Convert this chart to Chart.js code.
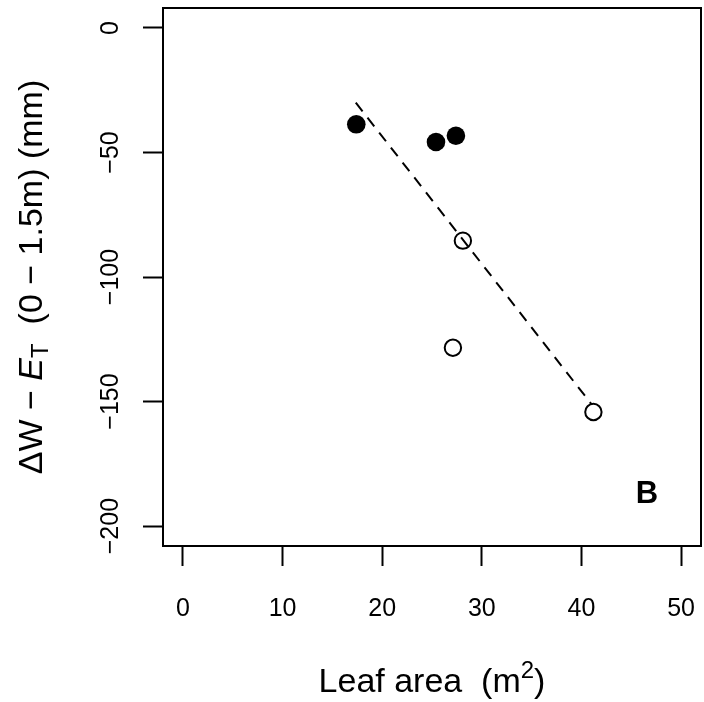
<!DOCTYPE html>
<html>
<head>
<meta charset="utf-8">
<script src="https://cdn.jsdelivr.net/npm/chart.js@4.4.0/dist/chart.umd.min.js"></script>
<style>
  html, body { margin: 0; padding: 0; background: #fff; }
  #wrap { width: 704px; height: 702px; }
</style>
</head>
<body>
<div id="wrap"><canvas id="myChart" width="704" height="702"></canvas></div>
<script>
// data
const filledX = [17.4, 25.4, 27.4];
const filledY = [-38.7, -45.8, -43.3];
const openX = [28.1, 27.1, 41.2];
const openY = [-85.4, -128.4, -154.2];
const fitX = [17.35, 41.0];
const fitY = [-30, -151];

const xTicks = [0, 10, 20, 30, 40, 50];
const yTicks = [0, -50, -100, -150, -200];
const panelLabel = 'B';

const FONT = '"Liberation Sans", Arial, Helvetica, sans-serif';

function pairs(xs, ys) {
  return xs.map(function(x, i) { return { x: x, y: ys[i] }; });
}

// draws a run of text pieces (for sub/superscripts), centred on 0
function drawPieces(c, pieces) {
  let total = 0;
  pieces.forEach(function(p) {
    c.font = p.font;
    p.w = c.measureText(p.text).width;
    total += p.w;
  });
  let x = -total / 2;
  pieces.forEach(function(p) {
    c.font = p.font;
    c.fillText(p.text, x, p.dy || 0);
    x += p.w;
  });
}

const rPlot = {
  id: 'rPlot',
  afterDraw: function(chart) {
    const c = chart.ctx;
    const a = chart.chartArea;
    const xs = chart.scales.x;
    const ys = chart.scales.y;
    c.save();
    c.strokeStyle = '#000';
    c.lineWidth = 2;
    c.strokeRect(a.left, a.top, a.right - a.left, a.bottom - a.top);

    c.fillStyle = '#000';
    // x tick labels
    c.font = '25px ' + FONT;
    c.textAlign = 'center';
    c.textBaseline = 'alphabetic';
    xTicks.forEach(function(v) {
      c.fillText(String(v), xs.getPixelForValue(v), 616);
    });
    // y tick labels, rotated like R
    yTicks.forEach(function(v) {
      c.save();
      c.translate(118, ys.getPixelForValue(v));
      c.rotate(-Math.PI / 2);
      c.fillText(String(v).replace('-', '\u2212'), 0, 0);
      c.restore();
    });

    // x title
    c.textAlign = 'left';
    c.save();
    c.translate((a.left + a.right) / 2, 692);
    drawPieces(c, [
      { text: 'Leaf area  (m', font: '34px ' + FONT },
      { text: '2', font: '24px ' + FONT, dy: -14 },
      { text: ')', font: '34px ' + FONT }
    ]);
    c.restore();

    // y title
    c.save();
    c.translate(42, (a.top + a.bottom) / 2);
    c.rotate(-Math.PI / 2);
    drawPieces(c, [
      { text: '\u0394W \u2212 ', font: '34px ' + FONT },
      { text: 'E', font: 'italic 34px ' + FONT },
      { text: 'T', font: '24px ' + FONT, dy: 6 },
      { text: '  (0 \u2212 1.5m) (mm)', font: '34px ' + FONT }
    ]);
    c.restore();

    // panel letter
    c.font = 'bold 31px ' + FONT;
    c.textAlign = 'center';
    c.textBaseline = 'middle';
    c.fillText(panelLabel, 647, 494);
    c.restore();
  }
};

new Chart(document.getElementById('myChart'), {
  type: 'scatter',
  data: {
    datasets: [
      {
        type: 'line',
        data: pairs(fitX, fitY),
        borderColor: '#000',
        borderWidth: 2,
        borderDash: [11, 8],
        pointRadius: 0,
        fill: false
      },
      {
        data: pairs(filledX, filledY),
        pointRadius: 9.3,
        backgroundColor: '#000',
        borderColor: '#000',
        borderWidth: 0
      },
      {
        data: pairs(openX, openY),
        pointRadius: 8.2,
        backgroundColor: 'rgba(0,0,0,0)',
        borderColor: '#000',
        borderWidth: 2
      }
    ]
  },
  options: {
    responsive: false,
    animation: false,
    events: [],
    layout: { autoPadding: false, padding: { top: 8, right: 3, left: 0, bottom: 0 } },
    plugins: { legend: { display: false }, tooltip: { enabled: false } },
    scales: {
      x: {
        type: 'linear',
        min: -2,
        max: 52,
        afterBuildTicks: function(s) { s.ticks = xTicks.map(function(v) { return { value: v }; }); },
        afterFit: function(s) { s.height = 156; },
        ticks: { display: false },
        border: { display: false },
        grid: { drawOnChartArea: false, drawTicks: true, tickLength: 20, tickColor: '#000', tickWidth: 2 }
      },
      y: {
        type: 'linear',
        min: -208,
        max: 8,
        afterBuildTicks: function(s) { s.ticks = yTicks.map(function(v) { return { value: v }; }); },
        afterFit: function(s) { s.width = 163; },
        ticks: { display: false },
        border: { display: false },
        grid: { drawOnChartArea: false, drawTicks: true, tickLength: 20, tickColor: '#000', tickWidth: 2 }
      }
    }
  },
  plugins: [rPlot]
});
</script>
</body>
</html>
